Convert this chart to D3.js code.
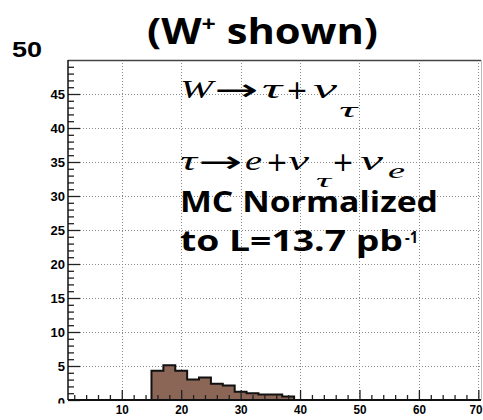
<!DOCTYPE html>
<html><head><meta charset="utf-8">
<script src="https://cdn.jsdelivr.net/npm/d3@7"></script>
<style>
html,body{margin:0;padding:0;background:#fff;}
svg{display:block;}
</style></head>
<body>
<svg id="chart" width="483" height="420"></svg>
<script>
// ---- data ----
const binLow = [15,17,19,21,23,25,27,29,31,33,35,37];
const binHigh = [17,19,21,23,25,27,29,31,33,35,37,39];
const counts = [4.3,5.1,4.3,3.0,3.3,2.4,2.15,1.2,1.0,0.8,0.8,0.5];
const xMajorTicks = [10,20,30,40,50,60,70];
const xTickLabels = ["10","20","30","40","50","60","70"];
const xMinorTicks = [2,4,6,8,12,14,16,18,22,24,26,28,32,34,36,38,42,44,46,48,52,54,56,58,62,64,66,68];
const yMajorTicks = [0,5,10,15,20,25,30,35,40,45];
const yTickLabels = ["0","5","10","15","20","25","30","35","40","45"];
const yGridTicks = [5,10,15,20,25,30,35,40,45];
const yMinorTicks = d3.range(0,50).filter(v => v % 5 !== 0);
const xDomain = [0.95, 70.45];
const yDomain = [0, 50];

// ---- layout ----
const L = 68, R = 481, T = 60, B = 400;
const svg = d3.select("#chart");
const x = d3.scaleLinear().domain(xDomain).range([L, R]);
const y = d3.scaleLinear().domain(yDomain).range([B, T]);

// grid
const grid = svg.append("g").attr("stroke","#8a8a8a").attr("stroke-width",1).attr("stroke-dasharray","1,2");
grid.selectAll("line.v").data(xMajorTicks).join("line").attr("class","v")
  .attr("x1",d=>Math.round(x(d))+0.5).attr("x2",d=>Math.round(x(d))+0.5).attr("y1",T).attr("y2",B);
grid.selectAll("line.h").data(yGridTicks).join("line").attr("class","h")
  .attr("y1",d=>Math.round(y(d))+0.5).attr("y2",d=>Math.round(y(d))+0.5).attr("x1",L).attr("x2",R);

// histogram as step path
const pts = [[binLow[0],0]];
binLow.forEach((lo,i)=>{ pts.push([lo,counts[i]]); pts.push([binHigh[i],counts[i]]); });
pts.push([binHigh[binHigh.length-1],0]);
const line = d3.line().x(d=>x(d[0])).y(d=>y(d[1]));
svg.append("path").attr("d", line(pts)+"Z")
  .attr("fill","#8b6657").attr("stroke","#111").attr("stroke-width",2).attr("stroke-linejoin","miter");

// frame
svg.append("line").attr("x1",L).attr("x2",R).attr("y1",T+0.5).attr("y2",T+0.5).attr("stroke","#444").attr("stroke-width",1.5);
svg.append("line").attr("x1",R+0.5).attr("x2",R+0.5).attr("y1",T).attr("y2",B).attr("stroke","#bbb").attr("stroke-width",1);

// axes
const tickFont = "Liberation Sans, Arial, sans-serif";
const gy = svg.append("g").attr("transform",`translate(${L},0)`);
gy.call(d3.axisLeft(y).tickValues(yMinorTicks).tickSize(-6).tickFormat(""));
const gyM = svg.append("g").attr("transform",`translate(${L},0)`);
gyM.call(d3.axisLeft(y).tickValues(yMajorTicks).tickSizeInner(-12).tickSizeOuter(0).tickPadding(3)
  .tickFormat((d,i)=>yTickLabels[i]));
const gx = svg.append("g").attr("transform",`translate(0,${B})`);
gx.call(d3.axisBottom(x).tickValues(xMinorTicks).tickSize(-5).tickFormat(""));
const gxM = svg.append("g").attr("transform",`translate(0,${B})`);
gxM.call(d3.axisBottom(x).tickValues(xMajorTicks).tickSizeInner(-10).tickSizeOuter(0).tickPadding(5)
  .tickFormat((d,i)=>xTickLabels[i]));
[gy,gyM,gx,gxM].forEach(g=>{
  g.selectAll(".domain").remove();
  g.selectAll(".tick line").attr("stroke","#222").attr("stroke-width",1.3);
  g.selectAll("text").attr("font-family",tickFont).attr("font-weight","bold").attr("font-size",13).attr("fill","#000");
});
gxM.selectAll("text").attr("textLength",13).attr("lengthAdjust","spacingAndGlyphs");
gxM.selectAll(".tick").filter(d=>d===70).select("text")
  .attr("text-anchor","end").attr("x", 482 - x(70));
// the "0" label sits a little lower and only its upper part shows, as in the reference
gyM.selectAll(".tick").filter(d=>d===0).select("text").attr("dy",null).attr("y",6.5);
svg.append("rect").attr("x",46).attr("y",403.5).attr("width",21).attr("height",10).attr("fill","#fff");
// axis lines
svg.append("line").attr("x1",L).attr("x2",L).attr("y1",T).attr("y2",B).attr("stroke","#111").attr("stroke-width",1.5);
svg.append("line").attr("x1",L).attr("x2",R).attr("y1",B).attr("y2",B).attr("stroke","#111").attr("stroke-width",2);

// big "50" label
svg.append("text").attr("x",12).attr("y",57).text("50")
  .attr("font-family",tickFont).attr("font-weight","bold").attr("font-size",22)
  .attr("textLength",30).attr("lengthAdjust","spacingAndGlyphs");

// title
const sans = "'Open Sans', sans-serif";
const title = svg.append("text").attr("x",147).attr("y",44)
  .attr("font-family",sans).attr("font-weight","bold").attr("font-size",35)
  .attr("textLength",231).attr("lengthAdjust","spacingAndGlyphs");
title.append("tspan").text("(W");
title.append("tspan").text("+").attr("font-size",21).attr("dy",-13);
title.append("tspan").text(" shown)").attr("dy",13);

// MC normalized text
svg.append("text").attr("x",180).attr("y",212).text("MC Normalized")
  .attr("font-family",sans).attr("font-weight","bold").attr("font-size",28)
  .attr("textLength",258).attr("lengthAdjust","spacingAndGlyphs");
svg.append("text").attr("x",180).attr("y",251).text("to L=13.7 pb")
  .attr("font-family",sans).attr("font-weight","bold").attr("font-size",28)
  .attr("textLength",223).attr("lengthAdjust","spacingAndGlyphs");
svg.append("text").attr("x",405).attr("y",243).text("-1")
  .attr("font-family",sans).attr("font-weight","bold").attr("font-size",16)
  .attr("textLength",13).attr("lengthAdjust","spacingAndGlyphs");

// math formulas: glyph, x start, width, baseline, size, italic, family
const serif = "'Liberation Serif', 'DejaVu Serif', serif";
const symFont = "'DejaVu Sans', sans-serif";
const math1 = [
  ["W",180,33,98,26,true,serif],["\u2192",214,44,100,30,false,symFont],["\u03C4",262,20,98,27,true,serif],
  ["+",286,22,99,26,false,symFont],["\u03BD",313,24,98,27,true,serif],["\u03C4",339,18,117,21,true,serif]
];
const math2 = [
  ["\u03C4",180,17,170,27,true,serif],["\u2192",198,44,172,30,false,symFont],["e",245,17,170,27,true,serif],
  ["+",266,22,171,26,false,symFont],["\u03BD",288,21,170,27,true,serif],["\u03C4",316,15,187,18,true,serif],
  ["+",332,22,171,26,false,symFont],["\u03BD",360,23,170,27,true,serif],["e",388,17,178,21,true,serif]
];
[math1,math2].forEach(m=>{
  svg.append("g").selectAll("text").data(m).join("text")
    .attr("x",d=>d[1]).attr("y",d=>d[3]).text(d=>d[0])
    .attr("font-family",d=>d[6]).attr("font-size",d=>d[4]).attr("font-style",d=>d[5]?"italic":"normal")
    .attr("textLength",d=>d[2]).attr("lengthAdjust","spacingAndGlyphs");
});
</script>
</body></html>
